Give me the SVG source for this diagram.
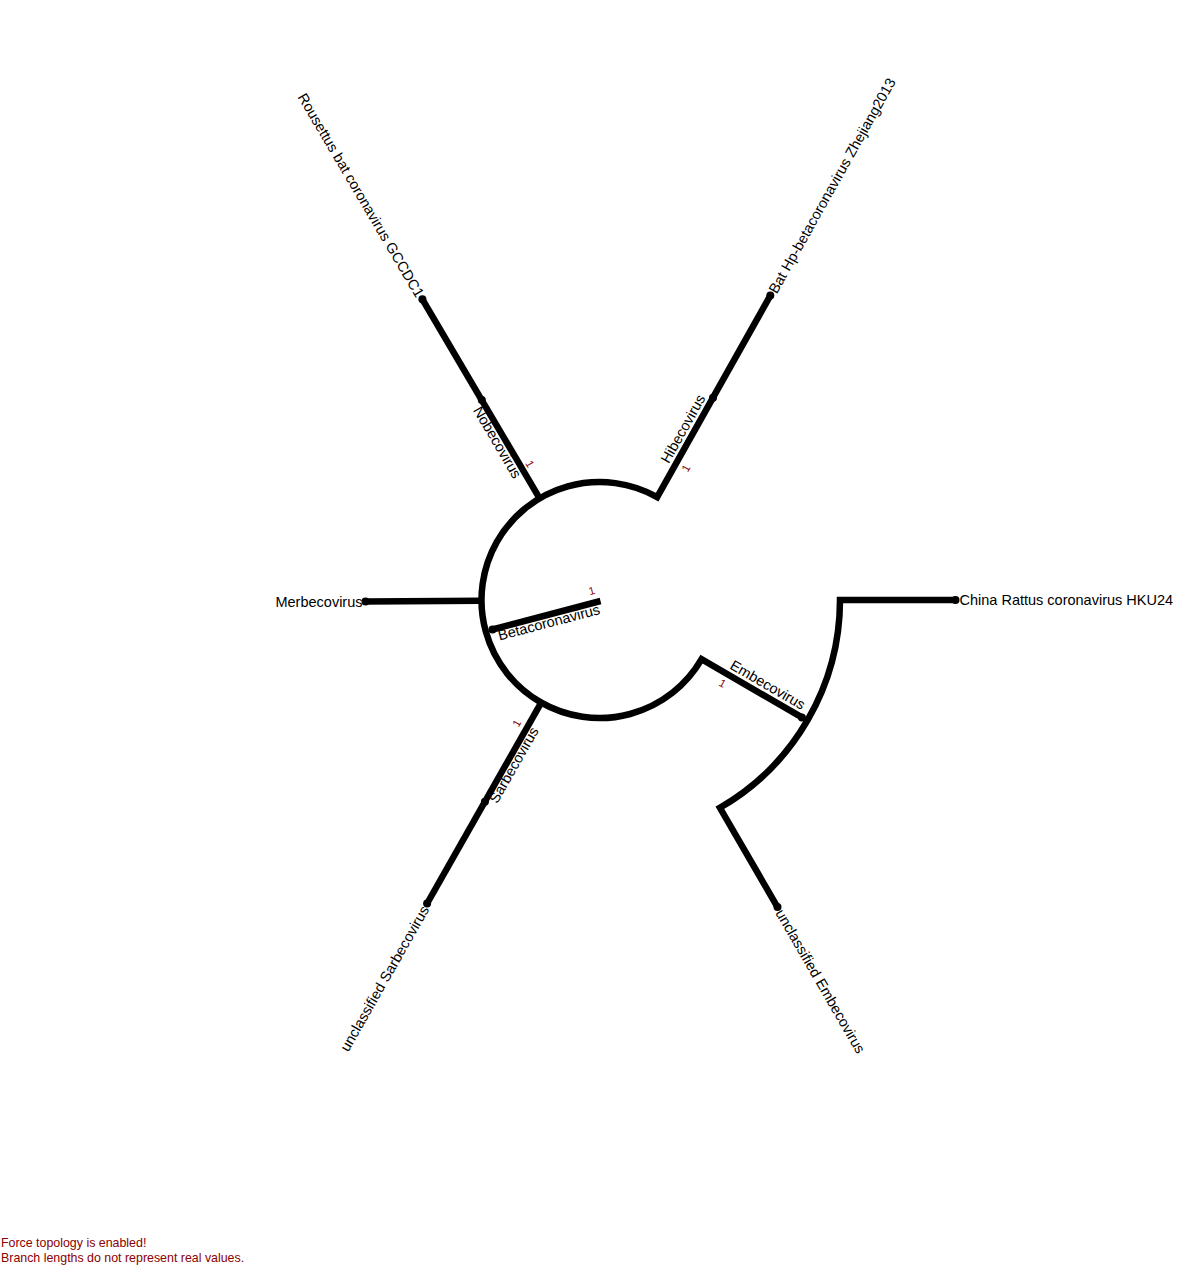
<svg xmlns="http://www.w3.org/2000/svg" width="1200" height="1265" viewBox="0 0 1200 1265">
<style>
.br{fill:none;stroke:#000;stroke-width:6.5;stroke-linejoin:miter;stroke-linecap:butt}
.dot{fill:#000}
.lbl{font-family:"Liberation Sans",Arial,sans-serif;font-size:14.5px;fill:#000}
.sup{font-family:"Liberation Sans",Arial,sans-serif;font-size:11px;fill:#8b0000;text-anchor:middle}
.note{font-family:"Liberation Sans",Arial,sans-serif;font-size:12.4px;fill:#8b0000}
</style>
<rect width="1200" height="1265" fill="#fff"/>
<g id="connectors">
<path class="br" d="M600.5 601 L492.5 629.5"/>
<path class="br" d="M713 397.7 L657.2 497.1 A118 118 0 1 0 701.6 659.2 L801.9 717.4"/>
<path class="br" d="M713 397.7 L770.3 295.6"/>
<path class="br" d="M539.6 498.3 L422.4 299.3"/>
<path class="br" d="M481.5 600.8 L365.5 601.6"/>
<path class="br" d="M541.2 702.6 L427.1 903.5"/>
<path class="br" d="M955.5 600 L840 600 A240.5 240.5 0 0 1 719.9 807.8 L777.5 907.1"/>
<g class="sup">
<text transform="translate(591.7,590.7) rotate(-14.8)" dy=".35em">1</text>
<text transform="translate(530,464) rotate(59.5)" dy=".35em">1</text>
<text transform="translate(686,468.3) rotate(-60.7)" dy=".35em">1</text>
<text transform="translate(722.7,683.3) rotate(30.1)" dy=".35em">1</text>
<text transform="translate(516.7,723.3) rotate(-60.4)" dy=".35em">1</text>
</g>
</g>
<g id="node-betacoronavirus">
<circle class="dot" cx="492.5" cy="629.5" r="4"/>
<text class="lbl" transform="translate(492.5,629.5) rotate(-14.8)" x="4" y="12.5">Betacoronavirus</text>
</g>
<g id="node-nobecovirus">
<circle class="dot" cx="481.8" cy="400.1" r="4"/>
<text class="lbl" transform="translate(481.8,400.1) rotate(59.5)" x="4" y="13">Nobecovirus</text>
</g>
<g id="node-rousettus">
<circle class="dot" cx="422.4" cy="299.3" r="4"/>
<text class="lbl" transform="translate(422.4,299.3) rotate(59.5)" x="-4" dy=".35em" text-anchor="end">Rousettus bat coronavirus GCCDC1</text>
</g>
<g id="node-hibecovirus">
<circle class="dot" cx="713" cy="397.7" r="4"/>
<text class="lbl" transform="translate(713,397.7) rotate(-60.7)" x="-4" y="-6" text-anchor="end">Hibecovirus</text>
</g>
<g id="node-bathp">
<circle class="dot" cx="770.3" cy="295.6" r="4"/>
<text class="lbl" transform="translate(770.3,295.6) rotate(-60.7)" x="4" dy=".35em">Bat Hp-betacoronavirus Zhejiang2013</text>
</g>
<g id="node-merbecovirus">
<circle class="dot" cx="365.5" cy="601.6" r="4"/>
<text class="lbl" transform="translate(365.5,601.6)" x="-3" dy=".35em" text-anchor="end">Merbecovirus</text>
</g>
<g id="node-sarbecovirus">
<circle class="dot" cx="484.9" cy="801.7" r="4"/>
<text class="lbl" transform="translate(484.9,801.7) rotate(-60.4)" x="4" y="12">Sarbecovirus</text>
</g>
<g id="node-unclassified-sarbecovirus">
<circle class="dot" cx="427.1" cy="903.5" r="4"/>
<text class="lbl" transform="translate(427.1,903.5) rotate(-60.4)" x="-4" dy=".35em" text-anchor="end">unclassified Sarbecovirus</text>
</g>
<g id="node-embecovirus">
<circle class="dot" cx="801.9" cy="717.4" r="4"/>
<text class="lbl" transform="translate(801.9,717.4) rotate(30.1)" x="-4" y="-6" text-anchor="end">Embecovirus</text>
</g>
<g id="node-china-rattus">
<circle class="dot" cx="955.5" cy="600" r="4"/>
<text class="lbl" transform="translate(955.5,600)" x="4" dy=".35em">China Rattus coronavirus HKU24</text>
</g>
<g id="node-unclassified-embecovirus">
<circle class="dot" cx="777.5" cy="907.1" r="4"/>
<text class="lbl" transform="translate(777.5,907.1) rotate(59.9)" x="4" dy=".35em">unclassified Embecovirus</text>
</g>
<g id="footer">
<text class="note" x="1" y="1247">Force topology is enabled!</text>
<text class="note" x="1" y="1262">Branch lengths do not represent real values.</text>
</g>
</svg>
